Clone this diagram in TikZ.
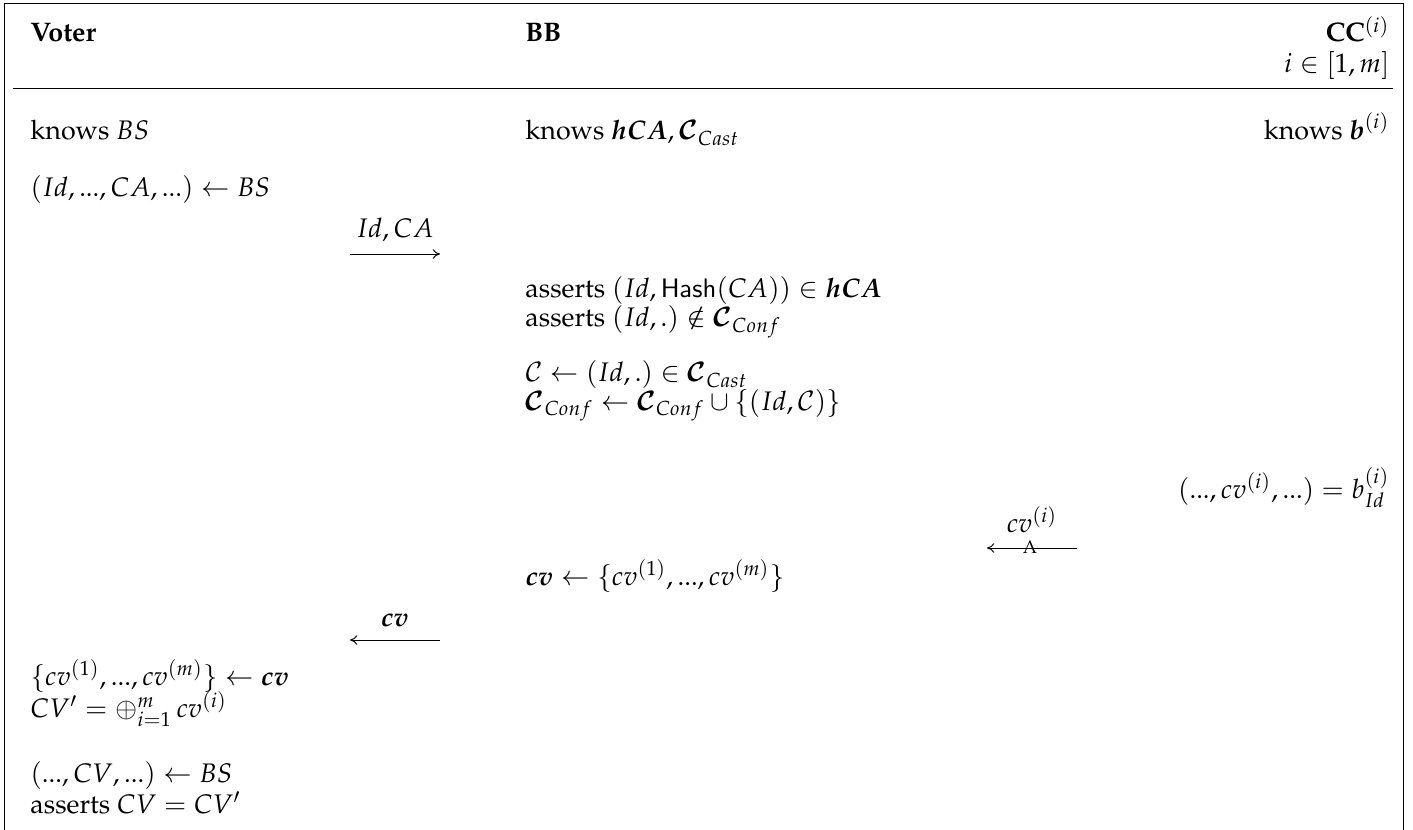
\documentclass[tikz,border=0pt]{standalone}
\usepackage[OT1]{fontenc}
\usepackage{amsmath,amssymb}
\usepackage{mathpazo}
\usetikzlibrary{arrows.meta}

\begin{document}
\begin{tikzpicture}[x=0.41pt,y=-0.41pt,line width=0.4pt,inner sep=0pt,
  every node/.style={font=\fontsize{11}{13}\selectfont},
  >={To[length=3pt,width=4pt]}]
\useasboundingbox (0,0) rectangle (1413,830);
\draw (4,830) -- (4,3) -- (1403,3) -- (1403,830);
\draw (13,88) -- (1393,88);
% parties
\node[anchor=base west] (voter) at (30,42) {\textbf{Voter}};
\node[anchor=base west] (bb) at (525,42) {\textbf{BB}};
\node[anchor=base east] (cc) at (1390,42) {\textbf{CC}$^{(i)}$};
\node[anchor=base east] (ccidx) at (1390,73) {$i \in [1,m]$};
%
\node[anchor=base west] (vknows) at (30,140) {knows $BS$};
\node[anchor=base west] (bknows) at (525,140) {knows $\boldsymbol{hCA}, \boldsymbol{\mathcal{C}}_{Cast}$};
\node[anchor=base east] (cknows) at (1390,140) {knows $\boldsymbol{b}^{(i)}$};
%
\node[anchor=base west] (vread) at (30,197) {$(Id,...,CA,...) \leftarrow BS$};
\coordinate (m1a) at (350,254);
\coordinate (m1b) at (440,254);
\draw[->] (m1a) -- node[above=5pt] (m1) {$Id, CA$} (m1b);
\node[anchor=base west] (bchk1) at (525,298) {asserts $(Id, \mathsf{Hash}(CA)) \in \boldsymbol{hCA}$};
\node[anchor=base west] (bchk2) at (525,327) {asserts $(Id, .) \notin \boldsymbol{\mathcal{C}}_{Conf}$};
\node[anchor=base west] (bget) at (525,382) {$\mathcal{C} \leftarrow (Id, .) \in \boldsymbol{\mathcal{C}}_{Cast}$};
\node[anchor=base west] (bupd) at (525,410) {$\boldsymbol{\mathcal{C}}_{Conf} \leftarrow \boldsymbol{\mathcal{C}}_{Conf} \cup \{(Id, \mathcal{C})\}$};
%
\node[anchor=base east] (cread) at (1390,498) {$(..., cv^{(i)}, ...) = b^{(i)}_{Id}$};
\coordinate (m2a) at (1077,548);
\coordinate (m2b) at (987,548);
\draw[->] (m2a) -- node[above=6pt] (m2) {$cv^{(i)}$} (m2b);
\node[anchor=base,font=\fontsize{7.5}{9}\selectfont] (m2x) at (1030,553) {A};
\node[anchor=base west] (bcoll) at (525,585) {$\boldsymbol{cv} \leftarrow \{cv^{(1)}, ..., cv^{(m)}\}$};
%
\coordinate (m3a) at (440,640);
\coordinate (m3b) at (350,640);
\draw[->] (m3a) -- node[above=5pt] (m3) {$\boldsymbol{cv}$} (m3b);
\node[anchor=base west] (vsplit) at (30,685) {$\{cv^{(1)}, ..., cv^{(m)}\} \leftarrow \boldsymbol{cv}$};
\node[anchor=base west] (vsum) at (30,717) {$CV' = \oplus_{i=1}^{m} \, cv^{(i)}$};
\node[anchor=base west] (vcv) at (30,782) {$(..., CV, ...) \leftarrow BS$};
\node[anchor=base west] (vchk) at (30,813) {asserts $CV = CV'$};
\end{tikzpicture}
\end{document}
